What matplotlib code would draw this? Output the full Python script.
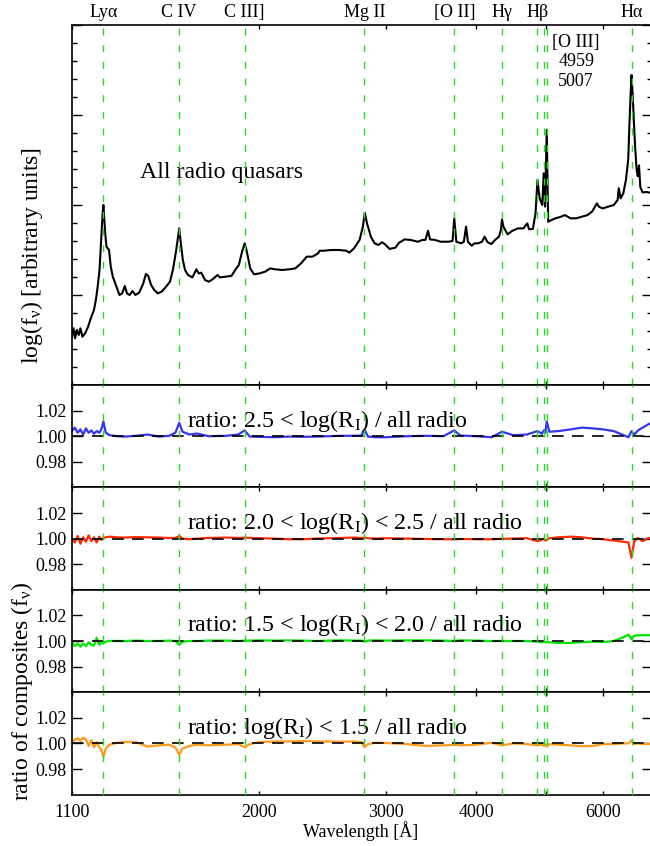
import numpy as np
import matplotlib
matplotlib.use('Agg')
import matplotlib.pyplot as plt
from matplotlib.ticker import (FixedLocator, FixedFormatter, NullLocator, MultipleLocator,
                               FormatStrFormatter, NullFormatter)

plt.rcParams['font.family'] = ['Liberation Serif', 'DejaVu Serif']
plt.rcParams['mathtext.fontset'] = 'custom'
plt.rcParams['mathtext.rm'] = 'Liberation Serif'
plt.rcParams['mathtext.it'] = 'Liberation Serif:italic'
plt.rcParams['mathtext.default'] = 'rm'

# composite spectrum of all radio quasars (rest wavelength, log f_nu, arbitrary offset)
wave_all = [1100, 1105, 1111, 1117, 1124, 1130, 1137, 1147, 1158, 1168, 1180, 1187, 1194, 1201,
            1208, 1213, 1216, 1223, 1228, 1238, 1245, 1253, 1265, 1280, 1291, 1302, 1311, 1322,
            1334, 1347, 1363, 1380, 1393, 1403, 1416, 1430, 1447, 1465, 1483, 1504, 1518, 1533,
            1542, 1549, 1557, 1567, 1578, 1593, 1616, 1636, 1648, 1662, 1682, 1702, 1723, 1750,
            1764, 1797, 1830, 1852, 1874, 1893, 1909, 1920, 1943, 1967, 2002, 2039, 2071, 2101,
            2152, 2205, 2244, 2286, 2327, 2370, 2412, 2426, 2456, 2517, 2578, 2641, 2666, 2706,
            2755, 2784, 2801, 2821, 2856, 2890, 2925, 2960, 2985, 3032, 3088, 3126, 3182, 3240,
            3319, 3367, 3399, 3428, 3449, 3503, 3568, 3655, 3707, 3727, 3752, 3811, 3843, 3870,
            3893, 3940, 3975, 4023, 4072, 4106, 4146, 4196, 4246, 4298, 4325, 4341, 4360, 4419,
            4483, 4565, 4648, 4705, 4733, 4790, 4831, 4861, 4895, 4936, 4959, 4980, 5007, 5030,
            5087, 5148, 5242, 5305, 5402, 5500, 5601, 5702, 5786, 5877, 5912, 5984, 6093, 6203,
            6279, 6301, 6339, 6393, 6447, 6494, 6520, 6545, 6563, 6590, 6615, 6640, 6670, 6695,
            6722, 6750, 6800, 6887, 7000]
logf_all = [0.268, 0.315, 0.259, 0.306, 0.278, 0.315, 0.268, 0.287, 0.324, 0.370, 0.417, 0.472, 0.546, 0.639,
            0.824, 0.954, 1.000, 0.843, 0.768, 0.750, 0.657, 0.602, 0.556, 0.500, 0.509, 0.550, 0.509, 0.500,
            0.522, 0.500, 0.513, 0.561, 0.617, 0.606, 0.556, 0.528, 0.509, 0.519, 0.543, 0.574, 0.639, 0.741,
            0.815, 0.870, 0.787, 0.694, 0.639, 0.611, 0.598, 0.643, 0.620, 0.624, 0.583, 0.574, 0.587, 0.611,
            0.598, 0.602, 0.606, 0.639, 0.667, 0.741, 0.787, 0.750, 0.648, 0.615, 0.620, 0.630, 0.648, 0.643,
            0.639, 0.643, 0.648, 0.676, 0.713, 0.713, 0.731, 0.746, 0.746, 0.750, 0.750, 0.746, 0.735, 0.759,
            0.806, 0.880, 0.957, 0.898, 0.824, 0.787, 0.778, 0.793, 0.783, 0.756, 0.763, 0.791, 0.809, 0.806,
            0.796, 0.806, 0.806, 0.857, 0.809, 0.806, 0.796, 0.796, 0.800, 0.926, 0.796, 0.787, 0.796, 0.880,
            0.796, 0.774, 0.787, 0.787, 0.796, 0.824, 0.793, 0.783, 0.806, 0.824, 0.860, 0.920, 0.880, 0.837,
            0.856, 0.870, 0.870, 0.898, 0.865, 0.867, 0.954, 1.139, 1.037, 1.000, 1.176, 0.991, 1.417, 0.907,
            0.917, 0.926, 0.935, 0.944, 0.926, 0.926, 0.935, 0.944, 0.963, 1.009, 0.991, 0.981, 0.991, 1.000,
            1.028, 1.093, 1.037, 1.065, 1.139, 1.250, 1.450, 1.620, 1.722, 1.600, 1.450, 1.320, 1.200, 1.160,
            1.220, 1.100, 1.070, 1.072, 1.067]

# ratio composites, sampled on a common wavelength grid
ratio_wave = [1100, 1110, 1120, 1130, 1140, 1150, 1160, 1170, 1180, 1190, 1200, 1208, 1216, 1225,
              1240, 1270, 1300, 1350, 1400, 1450, 1500, 1530, 1549, 1565, 1600, 1640, 1700, 1800,
              1870, 1909, 1940, 2000, 2100, 2200, 2300, 2400, 2500, 2600, 2700, 2770, 2798, 2830,
              2900, 3000, 3200, 3400, 3600, 3727, 3800, 4000, 4200, 4340, 4500, 4700, 4861, 4930,
              4959, 4985, 5007, 5050, 5200, 5400, 5600, 5800, 6000, 6200, 6400, 6500, 6563, 6620,
              6700, 6800, 6900, 7000]
ratio_hi = [1.0040, 1.0067, 1.0027, 1.0053, 1.0013, 1.0061, 1.0027, 1.0045, 1.0019, 1.0040, 1.0027, 1.0053, 1.0115, 1.0027,
            1.0008, 1.0000, 0.9997, 1.0003, 1.0013, 0.9997, 1.0003, 1.0027, 1.0104, 1.0035, 1.0013, 1.0021, 1.0000, 1.0003,
            1.0013, 1.0045, 0.9997, 0.9995, 0.9992, 0.9997, 0.9995, 0.9997, 1.0000, 1.0003, 1.0003, 1.0005, 1.0051, 0.9997,
            0.9992, 0.9992, 1.0000, 1.0003, 1.0000, 1.0045, 1.0005, 1.0000, 0.9992, 1.0035, 1.0008, 1.0013, 1.0040, 1.0019,
            1.0045, 1.0027, 1.0115, 1.0035, 1.0040, 1.0053, 1.0067, 1.0061, 1.0053, 1.0040, 1.0008, 0.9992, 1.0040, 1.0013,
            1.0045, 1.0067, 1.0088, 1.0107]
ratio_20_25 = [1.0000, 0.9970, 1.0020, 0.9960, 1.0010, 0.9975, 1.0025, 0.9980, 1.0010, 0.9970, 1.0015, 0.9990, 1.0005, 1.0010,
               1.0015, 1.0010, 1.0008, 1.0012, 1.0010, 1.0008, 1.0005, 1.0005, 1.0020, 1.0000, 0.9995, 1.0000, 1.0005, 1.0008,
               1.0005, 1.0008, 1.0005, 1.0003, 1.0000, 0.9995, 0.9995, 1.0000, 1.0003, 1.0005, 1.0008, 1.0005, 1.0008, 1.0003,
               1.0000, 1.0003, 1.0000, 0.9997, 0.9995, 0.9995, 0.9997, 0.9995, 0.9995, 0.9998, 1.0000, 1.0003, 0.9980, 0.9990,
               1.0000, 0.9985, 0.9990, 1.0003, 1.0010, 1.0015, 1.0010, 1.0000, 0.9995, 0.9985, 0.9975, 0.9970, 0.9850, 0.9980,
               1.0005, 0.9980, 1.0000, 1.0010]
ratio_15_20 = [0.9990, 0.9960, 0.9980, 0.9955, 0.9980, 0.9960, 0.9990, 0.9970, 0.9965, 1.0025, 0.9970, 0.9990, 0.9980, 0.9995,
               1.0000, 1.0000, 1.0000, 1.0003, 1.0000, 1.0000, 1.0003, 1.0000, 0.9970, 0.9995, 1.0000, 1.0000, 1.0003, 1.0003,
               1.0000, 1.0003, 1.0003, 1.0005, 1.0003, 1.0005, 1.0003, 1.0000, 1.0003, 1.0005, 1.0003, 1.0003, 0.9995, 1.0003,
               1.0005, 1.0003, 1.0005, 1.0005, 1.0003, 1.0000, 1.0005, 1.0003, 1.0000, 1.0000, 1.0000, 1.0000, 0.9995, 0.9990,
               0.9995, 0.9990, 0.9990, 0.9990, 0.9985, 0.9985, 0.9992, 0.9995, 0.9992, 1.0000, 1.0030, 1.0050, 1.0015, 1.0040,
               1.0045, 1.0045, 1.0045, 1.0045]
ratio_lo = [1.0010, 1.0030, 1.0040, 1.0020, 1.0045, 1.0030, 0.9980, 1.0025, 0.9970, 1.0010, 0.9970, 0.9950, 0.9895, 0.9960,
            0.9990, 1.0005, 1.0010, 1.0010, 0.9975, 0.9985, 0.9990, 0.9970, 0.9910, 0.9960, 0.9980, 0.9990, 0.9985, 0.9990,
            0.9995, 0.9970, 0.9995, 1.0010, 1.0015, 1.0015, 1.0018, 1.0015, 1.0015, 1.0013, 1.0015, 1.0010, 0.9970, 0.9995,
            1.0005, 1.0003, 0.9995, 0.9980, 0.9985, 0.9990, 0.9985, 0.9990, 1.0005, 0.9985, 1.0000, 0.9995, 0.9985, 0.9990,
            0.9980, 0.9995, 0.9975, 0.9995, 0.9990, 0.9985, 0.9978, 0.9980, 0.9995, 0.9995, 1.0000, 1.0000, 1.0025, 0.9995,
            1.0000, 0.9995, 0.9995, 0.9995]

ratio_series = [ratio_hi, ratio_20_25, ratio_15_20, ratio_lo]
ratio_colors = ['#3535ee', '#ff2a00', '#00e600', '#ff9a1a']
ratio_labels = [r'ratio: 2.5 < log(R$_\mathrm{I}$) / all radio',
                r'ratio: 2.0 < log(R$_\mathrm{I}$) < 2.5 / all radio',
                r'ratio: 1.5 < log(R$_\mathrm{I}$) < 2.0 / all radio',
                r'ratio: log(R$_\mathrm{I}$) < 1.5 / all radio']

line_names = ['Ly\u03b1', 'C IV', 'C III]', 'Mg II', '[O II]', 'H\u03b3', 'H\u03b2', 'H\u03b1']
line_waves = [1216, 1549, 1909, 2798, 3727, 4340, 4861, 6563]
oiii_waves = [4959, 5007]

xticks = [1100, 2000, 3000, 4000, 5000, 6000]
xticklabels = ['1100', '2000', '3000', '4000', '', '6000']

W, H = 650, 846
fig = plt.figure(figsize=(W / 100, H / 100), dpi=100)
left = 72 / W
width = (651.7 - 72) / W


def fy(px):
    return 1 - px / H


# panel edges in pixels from the top: spectrum panel, then four ratio panels
edges = [25, 385, 487.4, 589.8, 692.2, 794.6]
axes = []
for i in range(5):
    ax = fig.add_axes([left, fy(edges[i + 1]), width, (edges[i + 1] - edges[i]) / H],
                      sharex=axes[0] if axes else None)
    axes.append(ax)

for ax in axes:
    ax.set_xscale('log')
    ax.set_xlim(1100, 7000)
    ax.xaxis.set_major_locator(FixedLocator(xticks))
    ax.xaxis.set_minor_locator(NullLocator())
    ax.xaxis.set_major_formatter(NullFormatter())
    ax.tick_params(axis='x', which='both', direction='in', top=True, bottom=True,
                   length=3, width=1, labelbottom=False, labelsize=13, pad=7)
    ax.tick_params(axis='y', which='major', direction='in', left=True, right=True,
                   length=7, width=1, labelsize=13, pad=4)
    ax.tick_params(axis='y', which='minor', direction='in', left=True, right=True,
                   length=3.5, width=1)
    for s in ax.spines.values():
        s.set_linewidth(1.2)
    for w in line_waves + oiii_waves:
        ax.axvline(w, color='#22dd22', lw=1.0, dashes=(5, 7), zorder=4)

# top panel: composite spectrum
ax = axes[0]
ax.plot(wave_all, logf_all, color='black', lw=1.5, zorder=3)
ax.set_ylim(0, 2)
ax.yaxis.set_major_locator(MultipleLocator(0.5))
ax.yaxis.set_minor_locator(MultipleLocator(0.1))
ax.yaxis.set_major_formatter(NullFormatter())
ax.text(1367, 1.148, 'All radio quasars', fontsize=17.2, ha='left', va='baseline')
for name, w in zip(line_names, line_waves):
    ax.text(w, 1.021, name, transform=ax.get_xaxis_transform(), fontsize=13,
            ha='center', va='baseline', clip_on=False)
ax.text(5500, 1.879, '[O III]', fontsize=13, ha='center', va='baseline')
ax.text(5500, 1.772, '4959', fontsize=13, ha='center', va='baseline')
ax.text(5500, 1.661, '5007', fontsize=13, ha='center', va='baseline')

# ratio panels
for ax, vals, col, lab in zip(axes[1:], ratio_series, ratio_colors, ratio_labels):
    ax.plot(ratio_wave, vals, color=col, lw=1.6, zorder=2)
    ax.axhline(1.0, color='black', lw=1.2, dashes=(7, 5), zorder=3)
    ax.set_ylim(0.96, 1.04)
    ax.yaxis.set_major_locator(FixedLocator([0.98, 1.00, 1.02]))
    ax.yaxis.set_minor_locator(NullLocator())
    ax.yaxis.set_major_formatter(FormatStrFormatter('%.2f'))
    ax.text(1590, 1.0075, lab, fontsize=17.3, ha='left', va='baseline')

axes[-1].xaxis.set_major_formatter(FixedFormatter(xticklabels))
axes[-1].tick_params(axis='x', labelbottom=True)

fig.text(32 / W, fy(255), r'log(f$_\nu$) [arbitrary units]', rotation=90,
         ha='center', va='center', fontsize=17)
fig.text(22 / W, fy(691), r'ratio of composites (f$_\nu$)', rotation=90,
         ha='center', va='center', fontsize=17)
fig.text(361 / W, fy(831), 'Wavelength [\u00c5]', ha='center', va='center', fontsize=13)

fig.savefig('out.png', dpi=100)
